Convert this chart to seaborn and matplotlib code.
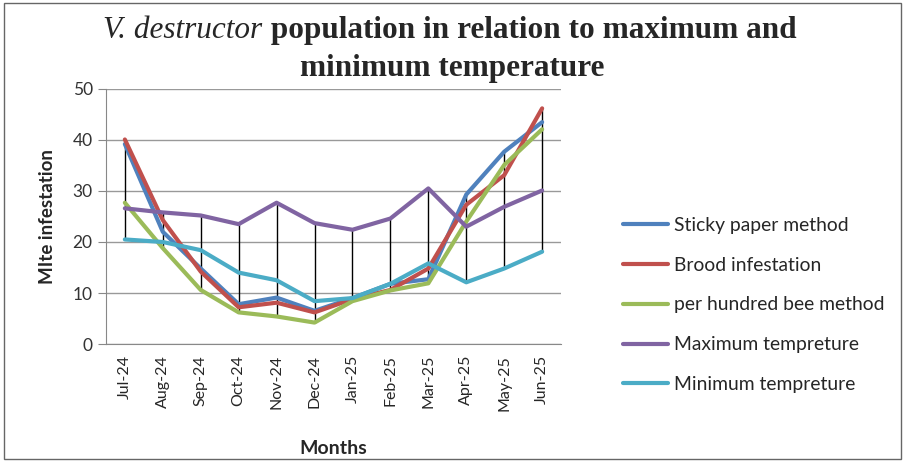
import numpy as np
import pandas as pd
import matplotlib.pyplot as plt
import seaborn as sns
from matplotlib.patches import Rectangle

sns.set_style("white")
plt.rcParams['font.family'] = ['Lato', 'DejaVu Sans']

# Data
months = ["Jul-24", "Aug-24", "Sep-24", "Oct-24", "Nov-24", "Dec-24",
          "Jan-25", "Feb-25", "Mar-25", "Apr-25", "May-25", "Jun-25"]
sticky_paper = [39.2, 22.0, 14.8, 7.8, 9.1, 6.5, 9.0, 11.8, 12.7, 29.3, 37.7, 43.5]
brood = [40.1, 24.3, 14.2, 7.2, 8.1, 6.2, 8.8, 10.6, 14.8, 27.3, 33.1, 46.2]
per_hundred = [27.7, 18.8, 10.6, 6.2, 5.4, 4.2, 8.4, 10.5, 11.9, 24.0, 35.1, 42.1]
max_temp = [26.6, 25.8, 25.2, 23.5, 27.7, 23.7, 22.4, 24.6, 30.5, 23.0, 26.9, 30.1]
min_temp = [20.5, 20.0, 18.4, 14.0, 12.5, 8.4, 9.0, 11.8, 15.8, 12.1, 14.8, 18.1]

series_names = ["Sticky paper method", "Brood infestation", "per hundred bee method",
                "Maximum tempreture", "Minimum tempreture"]
series_values = [sticky_paper, brood, per_hundred, max_temp, min_temp]
colors = ["#4F81BD", "#C0504D", "#9BBB59", "#8064A2", "#4BACC6"]

rows = []
for name, vals in zip(series_names, series_values):
    for i, v in enumerate(vals):
        rows.append({"pos": i, "Month": months[i], "value": v, "series": name})
df = pd.DataFrame(rows)

fig = plt.figure(figsize=(9.05, 4.62), dpi=100)
ax = fig.add_axes([0.117, 0.2554, 0.503, 0.552])

# high-low lines
wide = np.array(series_values)
ax.vlines(range(len(months)), wide.min(axis=0), wide.max(axis=0),
          color="black", linewidth=1, zorder=1)

sns.lineplot(data=df, x="pos", y="value", hue="series", hue_order=series_names,
             palette=colors, linewidth=3, sort=False, ax=ax, zorder=2)

ax.set_xlim(-0.5, 11.5)
ax.set_ylim(0, 50)
ax.set_yticks(range(0, 51, 10))
ax.set_xticks(range(len(months)))
ax.set_xticklabels(months, rotation=90, fontsize=11.5)
ax.tick_params(axis="y", labelsize=12.5, length=6, color="#888888", left=True,
               labelcolor="#333333")
ax.tick_params(axis="x", length=0, pad=8)
ax.grid(axis="y", color="#999999", linewidth=1)
for s in ["top", "right"]:
    ax.spines[s].set_visible(False)
for s in ["left", "bottom"]:
    ax.spines[s].set_color("#888888")
ax.set_xlabel("Months", fontsize=14, fontweight="bold", labelpad=21)
ax.set_ylabel("MIte infestation", fontsize=13.5, fontweight="bold", labelpad=12)

ax.legend(loc="center left", bbox_to_anchor=(1.12, 0.153), frameon=False,
          fontsize=13.9, handlelength=2.3, handletextpad=0.3, labelspacing=1.18,
          borderaxespad=0)
for line in ax.get_legend().get_lines():
    line.set_linewidth(3)

# Title with mixed italic / bold
fs = 22.5
t1 = fig.text(0, 0.935, "V. destructor", fontsize=fs, style="italic",
              family="Liberation Serif", ha="left", va="center")
t2 = fig.text(0, 0.935, " population in relation to maximum and", fontsize=fs,
              fontweight="bold", family="Liberation Serif", ha="left", va="center")
fig.text(0.5, 0.852, "minimum temperature", fontsize=fs, fontweight="bold",
         family="Liberation Serif", ha="center", va="center")
r = fig.canvas.get_renderer()
w1 = t1.get_window_extent(r).width / fig.bbox.width
w2 = t2.get_window_extent(r).width / fig.bbox.width
x0 = 0.497 - (w1 + w2) / 2
t1.set_x(x0)
t2.set_x(x0 + w1)

fig.patches.append(Rectangle((0.004, 0.006), 0.992, 0.988, transform=fig.transFigure,
                             fill=False, edgecolor="#666666", linewidth=1))

fig.savefig("out.png", dpi=100)
